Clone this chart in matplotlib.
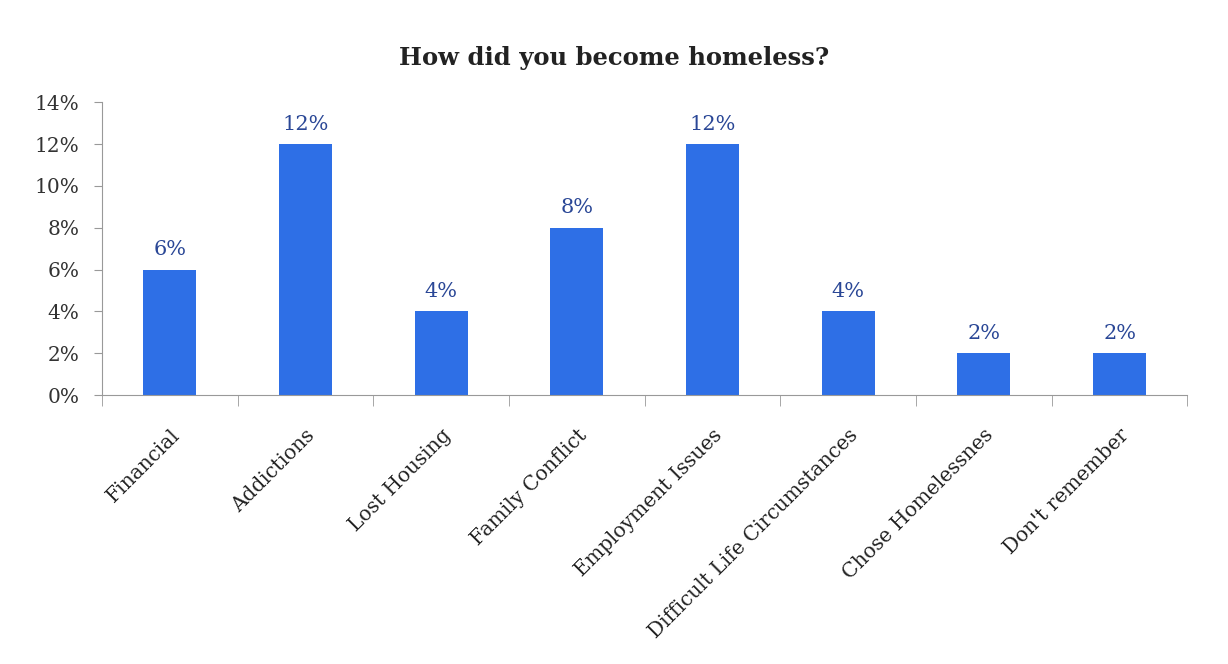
import matplotlib.pyplot as plt
import numpy as np

# survey responses
categories = ["Financial", "Addictions", "Lost Housing", "Family Conflict",
              "Employment Issues", "Difficult Life Circumstances",
              "Chose Homelessnes", "Don't remember"]
percent = [6, 12, 4, 8, 12, 4, 2, 2]
yticks = [0, 2, 4, 6, 8, 10, 12, 14]

plt.rcParams['font.family'] = ['DejaVu Serif']

fig = plt.figure(figsize=(12.28, 6.64), dpi=100)
ax = fig.add_axes([0.083, 0.405, 0.884, 0.441])

x = np.arange(len(categories))
bars = ax.bar(x, percent, width=0.39, color='#2e6fe6', zorder=2)

for b, v in zip(bars, percent):
    ax.text(b.get_x() + b.get_width() / 2, v + 0.5, "{}%".format(v),
            ha='center', va='bottom', fontsize=15, color='#2a4796')

ax.set_xlim(-0.5, len(categories) - 0.5)
ax.set_ylim(0, 14)
ax.set_yticks(yticks)
ax.set_yticklabels(["{}%".format(t) for t in yticks], fontsize=14.5, color='#333333')

# category labels, ticks sit on the boundaries between bars
ax.set_xticks(x)
ax.set_xticklabels(categories, rotation=45, ha='right', rotation_mode='anchor',
                   fontsize=14.5, color='#222222')
ax.tick_params(axis='x', length=0, pad=22)
ax.set_xticks(np.arange(len(categories) + 1) - 0.5, minor=True)
ax.tick_params(axis='x', which='minor', length=8, color='#999999')
ax.tick_params(axis='y', length=6, color='#999999', pad=10)

for side in ['top', 'right']:
    ax.spines[side].set_visible(False)
for side in ['left', 'bottom']:
    ax.spines[side].set_color('#999999')

fig.text(0.5, 0.913, "How did you become homeless?", ha='center', va='center',
         fontsize=17.5, fontweight='bold', color='#222222')

fig.savefig("out.png", dpi=100)
